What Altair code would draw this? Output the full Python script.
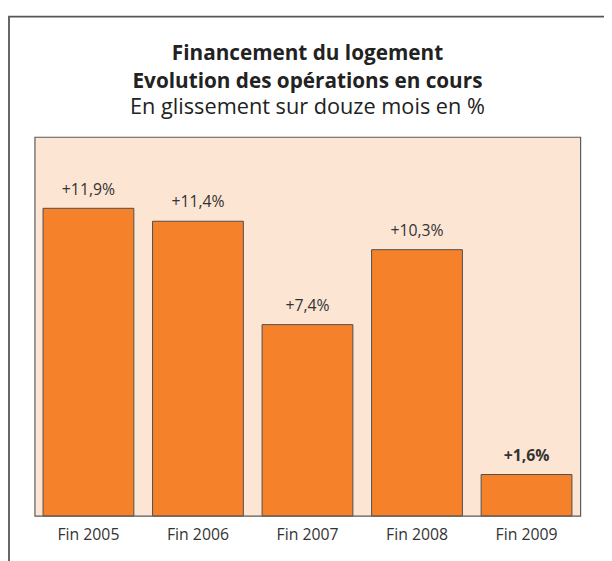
import altair as alt
import pandas as pd

categories = ["Fin 2005", "Fin 2006", "Fin 2007", "Fin 2008", "Fin 2009"]
values = [11.9, 11.4, 7.4, 10.3, 1.6]
value_labels = ["+11,9%", "+11,4%", "+7,4%", "+10,3%", "+1,6%"]
label_bold = [False, False, False, False, True]

title_lines = ["Financement du logement", "Evolution des opérations en cours"]
subtitle_line = "En glissement sur douze mois en %"

df = pd.DataFrame({"cat": categories, "val": values, "lab": value_labels, "bold": label_bold})

W, H = 553, 384
FONT = "Open Sans"
TXT = "#333333"
TITLE_C = "#222222"

x = alt.X("cat:N", sort=categories, title=None,
          scale=alt.Scale(paddingInner=0.171, paddingOuter=0.0766),
          axis=alt.Axis(labelAngle=0, labelFont=FONT, labelFontSize=16, labelColor=TXT,
                        ticks=False, domain=False, labelPadding=11, grid=False))
y = alt.Y("val:Q", scale=alt.Scale(domain=[0, 14.66], nice=False, zero=True), axis=None)

one = pd.DataFrame({"f": [0]})

frame = alt.Chart(one).mark_rect(
    fill="transparent", stroke="#555555", strokeWidth=1.8, clip=False
).encode(x=alt.value(-26), x2=alt.value(W + 120), y=alt.value(-122), y2=alt.value(H + 120))

t1 = alt.Chart(one).mark_text(
    text=title_lines[0], font=FONT, fontSize=21, fontWeight="bold", color=TITLE_C,
    align="center", baseline="alphabetic"
).encode(x=alt.value(W / 2), y=alt.value(-78))
t2 = alt.Chart(one).mark_text(
    text=title_lines[1], font=FONT, fontSize=21, fontWeight="bold", color=TITLE_C,
    align="center", baseline="alphabetic"
).encode(x=alt.value(W / 2), y=alt.value(-50))
t3 = alt.Chart(one).mark_text(
    text=subtitle_line, font=FONT, fontSize=22, fontWeight="normal", color=TITLE_C,
    align="center", baseline="alphabetic"
).encode(x=alt.value(W / 2), y=alt.value(-23))

bars = alt.Chart(df).mark_bar(color="#F5822B", stroke="#4d4d4d", strokeWidth=1).encode(x=x, y=y)

labels_normal = alt.Chart(df).transform_filter("!datum.bold").mark_text(
    baseline="alphabetic", dy=-14, fontSize=16, font=FONT, color=TXT, fontWeight="normal"
).encode(x=x, y=y, text="lab:N")

labels_bold = alt.Chart(df).transform_filter("datum.bold").mark_text(
    baseline="alphabetic", dy=-14, fontSize=16, font=FONT, color=TXT, fontWeight="bold"
).encode(x=x, y=y, text="lab:N")

chart = alt.layer(frame, t1, t2, t3, bars, labels_normal, labels_bold).properties(
    width=W, height=H,
    autosize=alt.AutoSizeParams(type="none"),
    padding={"left": 27, "top": 127, "right": 24, "bottom": 42},
    background="white",
).configure_view(fill="#FDE5D4", stroke="#5a5a5a", strokeWidth=1.2)

chart.save("out.html", embed_options={"renderer": "svg", "actions": False})
